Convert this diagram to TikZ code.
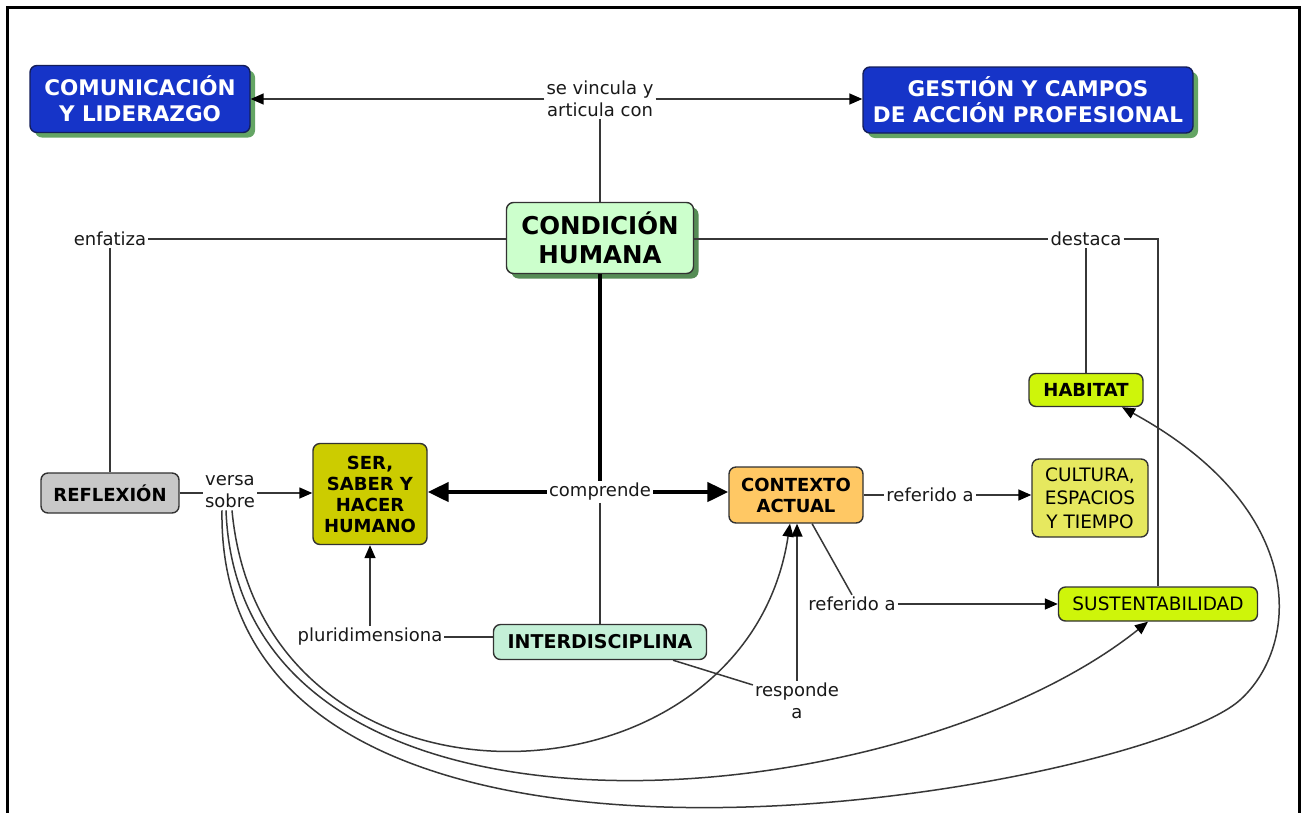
\documentclass[tikz,border=0pt]{standalone}
\usepackage{fontspec}
\setmainfont{DejaVu Sans}
\usetikzlibrary{arrows.meta,shadows}
\definecolor{linecol}{RGB}{55,55,55}
\definecolor{boxline}{RGB}{50,50,50}
\definecolor{txtcol}{RGB}{25,25,25}
\definecolor{bluefill}{RGB}{22,52,200}
\definecolor{blueline}{RGB}{20,30,90}
\definecolor{blueshadow}{RGB}{100,165,100}
\definecolor{chfill}{RGB}{204,255,204}
\definecolor{chshadow}{RGB}{85,140,85}
\definecolor{serfill}{RGB}{204,204,0}
\definecolor{ctxfill}{RGB}{255,200,100}
\definecolor{reffill}{RGB}{200,200,200}
\definecolor{limefill}{RGB}{206,245,10}
\definecolor{culfill}{RGB}{230,232,95}
\definecolor{intfill}{RGB}{196,240,215}
\begin{document}
\begin{tikzpicture}[x=1pt,y=-1pt,
  box/.style={draw=boxline, line width=1.4pt, rounded corners=7pt, align=center,
    inner sep=2pt, text=black, font=\bfseries\fontsize{18}{21}\selectfont},
  plainbox/.style={box, font=\fontsize{18.5}{23.5}\selectfont},
  bluebox/.style={box, fill=bluefill, draw=blueline, text=white,
    font=\bfseries\fontsize{21.5}{26}\selectfont,
    drop shadow={fill=blueshadow, opacity=1, shadow xshift=5pt, shadow yshift=-5pt}},
  lbl/.style={align=center, inner sep=2pt, text=txtcol, font=\fontsize{18}{22}\selectfont},
  conn/.style={draw=linecol, line width=1.5pt},
  arr/.style={conn, -{Triangle[length=13pt,width=11pt,color=black,fill=black]}},
  bigline/.style={draw=black, line width=4.5pt},
  bigarr/.style={bigline, -{Triangle[length=21pt,width=19pt]}}
]
\useasboundingbox (0,0) rectangle (1303,812);
\fill[white] (0,0) rectangle (1303,812);
\draw[line width=3pt, black] (7,830) -- (7,7) -- (1299,7) -- (1299,830);

% concept nodes
\node[bluebox, minimum width=220pt, minimum height=67pt] (COM) at (140,99) {COMUNICACIÓN\\Y LIDERAZGO};
\node[bluebox, minimum width=330pt, minimum height=66pt] (GEST) at (1028,100) {GESTIÓN Y CAMPOS\\DE ACCIÓN PROFESIONAL};
\node[box, fill=chfill, minimum width=187pt, minimum height=71pt,
  font=\bfseries\fontsize{24.5}{29}\selectfont,
  drop shadow={fill=chshadow, opacity=1, shadow xshift=5pt, shadow yshift=-5pt}] (CH) at (600,238) {CONDICIÓN\\HUMANA};
\node[box, fill=reffill, minimum width=138pt, minimum height=40pt] (REF) at (110,493) {REFLEXIÓN};
\node[box, fill=serfill, minimum width=114pt, minimum height=101pt] (SER) at (370,494) {SER,\\SABER Y\\HACER\\HUMANO};
\node[box, fill=ctxfill, minimum width=134pt, minimum height=56pt] (CTX) at (796,495) {CONTEXTO\\ACTUAL};
\node[box, fill=intfill, minimum width=213pt, minimum height=35pt, font=\bfseries\fontsize{19}{22}\selectfont] (INT) at (600,642) {INTERDISCIPLINA};
\node[box, fill=limefill, minimum width=114pt, minimum height=33pt] (HAB) at (1086,390) {HABITAT};
\node[plainbox, fill=culfill, minimum width=116pt, minimum height=78pt] (CUL) at (1090,498) {CULTURA,\\ESPACIOS\\Y TIEMPO};
\node[plainbox, fill=limefill, minimum width=199pt, minimum height=34pt] (SUS) at (1158,604) {SUSTENTABILIDAD};

% linking phrases
\node[lbl] (vinc) at (600,99) {se vincula y\\articula con};
\node[lbl] (enf) at (110,239) {enfatiza};
\node[lbl] (dest) at (1086,239) {destaca};
\node[lbl] (comp) at (600,492) {comprende};
\node[lbl] (versa) at (230,492) {versa\\sobre};
\node[lbl] (plur) at (370,637) {pluridimensiona};
\node[lbl] (resp) at (797,701) {responde\\a};
\node[lbl] (ref1) at (930,495) {referido a};
\node[lbl] (ref2) at (852,604) {referido a};

% connectors
\draw[conn] (CH.north) -- (vinc.south);
\draw[arr] (vinc.west) -- (COM.east);
\draw[arr] (vinc.east) -- (vinc.east -| GEST.west);

\draw[conn] (CH.west |- enf) -- (enf.east);
\draw[conn] (enf.south) -- (REF.north);

\draw[conn] (CH.east |- dest) -- (dest.west);
\draw[conn] (dest.south) -- (HAB.north);
\draw[conn] (dest.east) -| (SUS.north);

\draw[bigline] (CH.south) -- (comp.north);
\draw[bigarr] (comp.west) -- (comp.west -| SER.east);
\draw[bigarr] (comp.east) -- (comp.east -| CTX.west);
\draw[conn] (comp.south) -- (INT.north);

\draw[conn] (REF.east) -- (REF.east -| versa.west);
\draw[arr] (versa.east |- REF.east) -- (SER.west |- REF.east);

\draw[conn] (INT.west |- plur) -- (plur.east);
\draw[arr] (plur.north) -- (SER.south);

\draw[conn] (INT.-14) -- (resp.160);
\draw[arr] (resp.north) -- (resp.north |- CTX.south);

\draw[conn] (CTX.east |- ref1) -- (ref1.west);
\draw[arr] (ref1.east) -- (ref1.east -| CUL.west);

\draw[conn] (ref2.north) -- (CTX);
\draw[arr] (ref2.east) -- (SUS.west);

% long curves from "versa sobre"
\draw[arr] ([xshift=2pt]versa.south) .. controls (262,835) and (745,820) .. ([xshift=-6pt]CTX.south);
\draw[arr] ([xshift=-4pt]versa.south) .. controls (240,880) and (900,820) .. ([xshift=-10pt]SUS.south);
\draw[arr] ([xshift=-8pt]versa.south) .. controls (215,960) and (1140,790) .. (1240,700)
   .. controls (1300,646) and (1310,510) .. ([xshift=36pt]HAB.south);
\end{tikzpicture}
\end{document}
